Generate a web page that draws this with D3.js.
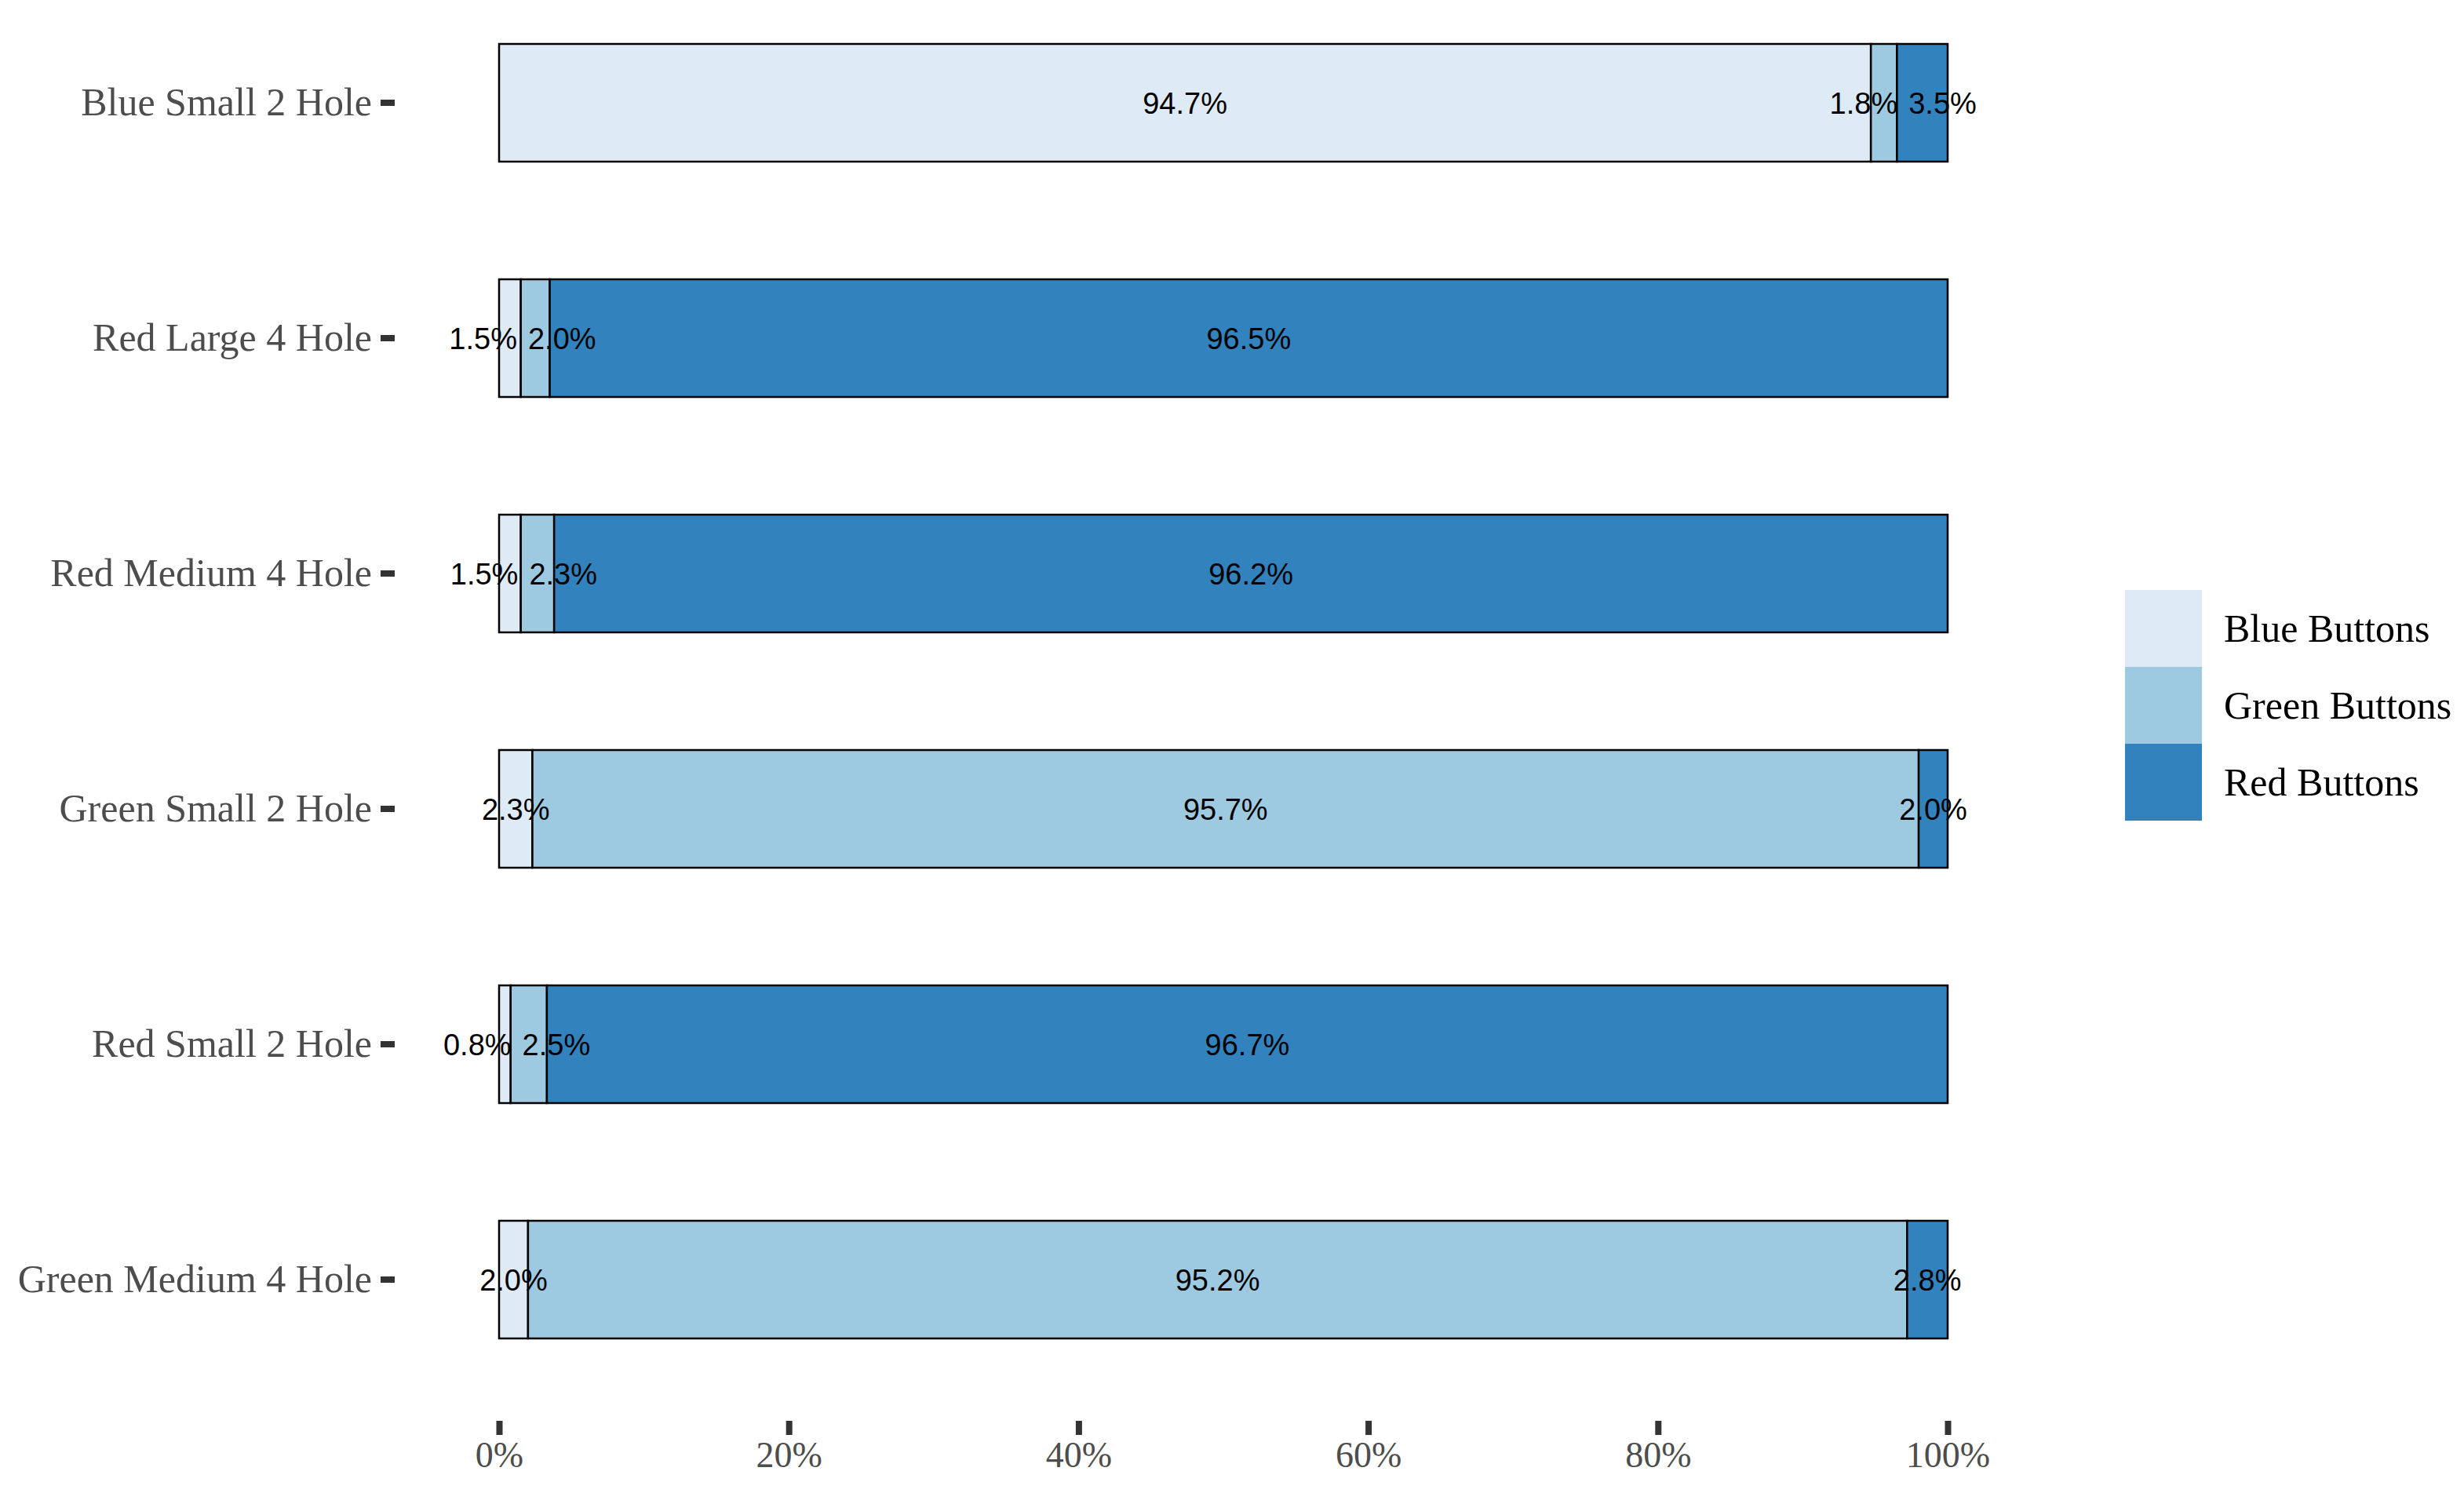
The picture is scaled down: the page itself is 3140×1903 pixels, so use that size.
<!DOCTYPE html>
<html lang="en">
<head>
<meta charset="UTF-8">
<title>Button colour share</title>
<script src="https://cdnjs.cloudflare.com/ajax/libs/d3/7.9.0/d3.min.js"></script>
<style>
    body { margin: 0; background: #fff; overflow: hidden; }
    .tick text { font-family: 'Liberation Serif', 'Times New Roman', serif; }
</style>
</head>
<body>
<div id="root"></div>
<script>
// data (shares in %)
const categories = ['Blue Small 2 Hole', 'Red Large 4 Hole', 'Red Medium 4 Hole',
    'Green Small 2 Hole', 'Red Small 2 Hole', 'Green Medium 4 Hole']
const series = ['Blue Buttons', 'Green Buttons', 'Red Buttons']
const blueShare = [94.7, 1.5, 1.5, 2.3, 0.8, 2.0]
const greenShare = [1.8, 2.0, 2.3, 95.7, 2.5, 95.2]
const redShare = [3.5, 96.5, 96.2, 2.0, 96.7, 2.8]
const xTicks = [0, 0.2, 0.4, 0.6, 0.8, 1]
const colors = ['#deebf7', '#9ecae1', '#3182bd']

const W = 3140, H = 1903

const rows = categories.map((c, i) => ({
    cat: c,
    'Blue Buttons': blueShare[i] / 100,
    'Green Buttons': greenShare[i] / 100,
    'Red Buttons': redShare[i] / 100
}))

const svg = d3.select('#root').append('svg')
    .attr('width', W).attr('height', H)

const x = d3.scaleLinear().domain([0, 1]).range([636, 2482])
const y = d3.scaleBand().domain(categories).range([-94, 1856]).padding(0.5)
const color = d3.scaleOrdinal().domain(series).range(colors)

const stacked = d3.stack().keys(series)(rows)

// bars
const layers = svg.append('g').selectAll('g')
    .data(stacked)
    .enter().append('g')
    .attr('fill', d => color(d.key))

layers.selectAll('rect')
    .data(d => d.map(p => ({ key: d.key, p })))
    .enter().append('rect')
    .attr('x', d => x(d.p[0]))
    .attr('y', d => y(d.p.data.cat))
    .attr('width', d => x(d.p[1]) - x(d.p[0]))
    .attr('height', y.bandwidth())
    .attr('stroke', '#000')
    .attr('stroke-width', 2.5)

// labels, pushed apart a little where they collide
const labelG = svg.append('g')
const labels = []
stacked.forEach(layer => {
    layer.forEach(p => {
        const v = p[1] - p[0]
        labels.push({ cat: p.data.cat, mid: x((p[0] + p[1]) / 2), text: (v * 100).toFixed(1) + '%' })
    })
})
const labelText = labelG.selectAll('text')
    .data(labels)
    .enter().append('text')
    .attr('y', d => y(d.cat) + y.bandwidth() / 2)
    .attr('dy', '0.36em')
    .attr('text-anchor', 'middle')
    .style('font-family', "'Liberation Sans', Arial, sans-serif")
    .style('font-size', '38px')
    .attr('fill', '#000')
    .text(d => d.text)
labelText.each(function (d) { d.w = this.getComputedTextLength(); d.cx = d.mid })

const gap = 14
categories.forEach(c => {
    const group = labels.filter(d => d.cat === c).sort((a, b) => a.mid - b.mid)
    for (let k = 0; k < 50; k++) {
        for (let i = 0; i < group.length - 1; i++) {
            const a = group[i], b = group[i + 1]
            const need = (a.w + b.w) / 2 + gap - (b.cx - a.cx)
            if (need > 0) { a.cx -= need / 2; b.cx += need / 2 }
        }
    }
})
labelText.attr('x', d => d.cx)

// axes
const yAxis = svg.append('g')
    .attr('transform', 'translate(503,0)')
    .call(d3.axisLeft(y).tickSize(18).tickPadding(11))
yAxis.select('.domain').remove()
yAxis.selectAll('.tick line').attr('stroke', '#333').attr('stroke-width', 8)
yAxis.selectAll('.tick text')
    .style('font-size', '50px').attr('fill', '#4d4d4d')

const xAxis = svg.append('g')
    .attr('transform', 'translate(0,1811)')
    .call(d3.axisBottom(x).tickValues(xTicks).tickFormat(d3.format('.0%')).tickSize(18).tickPadding(8))
xAxis.select('.domain').remove()
xAxis.selectAll('.tick line').attr('stroke', '#333').attr('stroke-width', 8)
xAxis.selectAll('.tick text')
    .style('font-size', '46px').attr('fill', '#4d4d4d')

// legend
const key = 98
const legend = svg.append('g').attr('transform', 'translate(2708,752)')
const item = legend.selectAll('g')
    .data(series)
    .enter().append('g')
    .attr('transform', (d, i) => `translate(0,${i * key})`)
item.append('rect')
    .attr('width', 98).attr('height', key)
    .attr('fill', d => color(d))
item.append('text')
    .attr('x', 126).attr('y', key / 2)
    .attr('dy', '0.33em')
    .style('font-family', "'Liberation Serif', 'Times New Roman', serif")
    .style('font-size', '50px')
    .attr('fill', '#000')
    .text(d => d)
</script>
</body>
</html>
